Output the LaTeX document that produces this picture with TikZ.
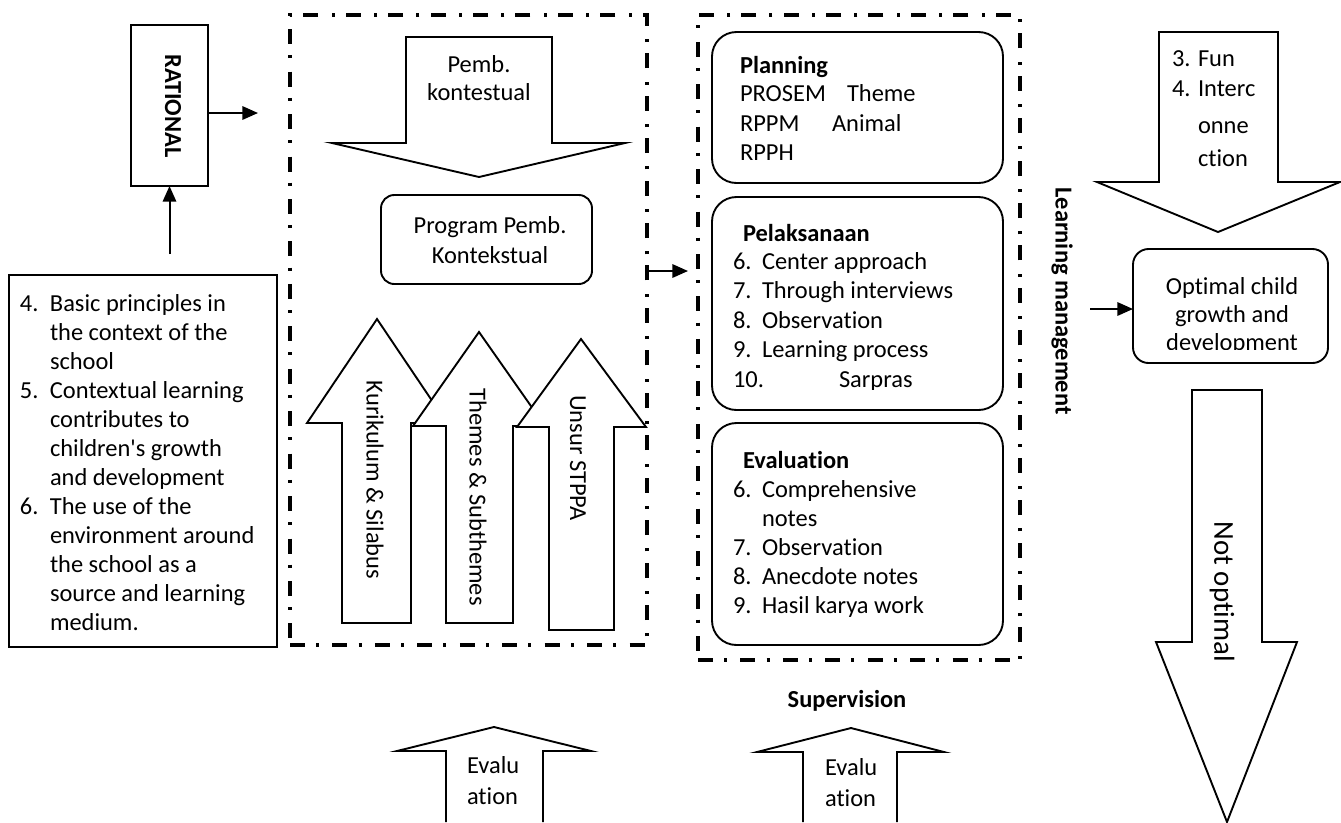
\documentclass[tikz,border=0pt]{standalone}
\usepackage{fontspec}
\setmainfont{Carlito}[Ligatures={TeXOff,CommonOff}]
\usetikzlibrary{arrows.meta}
\begin{document}
\begin{tikzpicture}[x=0.45pt,y=-0.45pt,
  every node/.style={inner sep=0pt,outer sep=0pt,font=\fontsize{11}{13.2}\selectfont},
  dashdot/.style={draw,line width=1.8pt,dash pattern=on 6.75pt off 5pt on 1.35pt off 6pt},
  plainbox/.style={draw,line width=0.85pt},
  rbox/.style={draw,line width=0.85pt,rounded corners=11pt},
  conn/.style={line width=0.9pt,-{Triangle[length=7pt,width=6pt]}},
  blockarrow/.style={draw,line width=0.85pt,fill=white,line join=miter},
  txt/.style={anchor=base west},
  ctxt/.style={anchor=base},
  vtxt/.style={rotate=-90},
]
\useasboundingbox (0,0) rectangle (1341,822);

% ---- left part
\node[plainbox,minimum width=34.65pt,minimum height=72.45pt] (rat) at (169.5,105.5) {};
\node[vtxt,font=\fontsize{11}{13.2}\selectfont\bfseries] (rattxt) at (173,106) {RATIONAL};
\node[plainbox,minimum width=120.6pt,minimum height=167.4pt] (lbox) at (143,461) {};
\node[txt,font=\fontsize{11}{13.05}\selectfont] (ltxt) at (20,311) {%
\begin{tabular}[t]{@{}p{13.5pt}@{}l@{}}
4. & Basic principles in\\
 & the context of the\\
 & school\\
5. & Contextual learning\\
 & contributes to\\
 & children's growth\\
 & and development\\
6. & The use of the\\
 & environment around\\
 & the school as a\\
 & source and learning\\
 & medium.
\end{tabular}};

% ---- dash-dot frames
\node[dashdot,minimum width=160.65pt,minimum height=283.5pt] (box1) at (468.5,330) {};
\node[dashdot,minimum width=144.9pt,minimum height=290.25pt] (box2) at (859,337.5) {};

% ---- connectors
\draw[conn,shorten >=14.4pt] (rat.east |- 0,113) -- (box1.west |- 0,113);
\draw[conn,shorten <=9.45pt] (rat.south |- lbox.north) -- (rat.south);
\draw[conn,shorten >=4.5pt] (box1.east |- 0,271) -- (box2.west |- 0,271);

% ---- box 1 content
\draw[blockarrow] (406,37) -- (552,37) -- (552,143) -- (625,143) -- (479,177) -- (332,143) -- (406,143) -- cycle;
\node[ctxt,font=\fontsize{11}{12.6}\selectfont] (pembtxt) at (479,72) {\begin{tabular}[t]{@{}c@{}}Pemb.\\kontestual\end{tabular}};
\node[rbox,rounded corners=6pt,minimum width=94.95pt,minimum height=40.05pt] (prog) at (486.5,239.5) {};
\node[ctxt,font=\fontsize{11}{13.5}\selectfont] (progtxt) at (490,233) {\begin{tabular}[t]{@{}c@{}}Program Pemb.\\Kontekstual\end{tabular}};

\draw[blockarrow] (342,623) -- (342,423) -- (307,423) -- (377,319) -- (447,423) -- (411,423) -- (411,623) -- cycle;
\node[vtxt] (kur) at (375,480) {Kurikulum \& Silabus};
\draw[blockarrow] (446,623) -- (446,426) -- (413,426) -- (479,332) -- (545,426) -- (513,426) -- (513,623) -- cycle;
\node[vtxt] (thm) at (478,497) {Themes \& Subthemes};
\draw[blockarrow] (549,630) -- (549,427) -- (517,427) -- (581,339) -- (646,427) -- (614,427) -- (614,630) -- cycle;
\node[vtxt] (uns) at (578,458) {Unsur STPPA};

% ---- box 2 content
\node[rbox,minimum width=130.95pt,minimum height=67.95pt] (plan) at (857.5,107.5) {};
\node[txt,font=\fontsize{11}{13.2}\selectfont\bfseries] (plant) at (740,73) {Planning};
\node[txt] (p1) at (740,101) {PROSEM};
\node[txt] (p1b) at (847,101) {Theme};
\node[txt] (p2) at (740,131) {RPPM};
\node[txt] (p2b) at (832,131) {Animal};
\node[txt] (p3) at (740,160) {RPPH};

\node[rbox,minimum width=130.95pt,minimum height=95.85pt] (pel) at (857.5,303.5) {};
\node[txt,font=\fontsize{11}{13.2}\selectfont\bfseries] (pelt) at (743,241) {Pelaksanaan};
\begin{scope}
\clip (712,197) rectangle (1003,389);
\node[txt,font=\fontsize{11}{13.3}\selectfont] (pellist) at (733,269) {%
\begin{tabular}[t]{@{}p{13.05pt}@{}l@{}}
6. & Center approach\\
7. & Through interviews\\
8. & Observation\\
9. & Learning process\\
10. & \hspace{34.65pt}Sarpras
\end{tabular}};
\end{scope}

\node[rbox,minimum width=130.95pt,minimum height=99.9pt] (eva) at (857.5,534) {};
\node[txt,font=\fontsize{11}{13.2}\selectfont\bfseries] (evat) at (743,468) {Evaluation};
\node[txt,font=\fontsize{11}{13.1}\selectfont] (evalist) at (733,497) {%
\begin{tabular}[t]{@{}p{13.05pt}@{}l@{}}
6. & Comprehensive\\
 & notes\\
7. & Observation\\
8. & Anecdote notes\\
9. & Hasil karya work
\end{tabular}};

\node[vtxt,font=\fontsize{11}{13.2}\selectfont\bfseries] (lm) at (1062,301) {Learning management};

% ---- right part
\draw[blockarrow] (1159,32) -- (1278,32) -- (1278,182) -- (1340,182) -- (1218,232) -- (1097,182) -- (1159,182) -- cycle;
\node[txt,font=\fontsize{11}{13.5}\selectfont] (funlist) at (1172,66) {%
\begin{tabular}[t]{@{}p{11.7pt}@{}l@{}}
3. & Fun\\
4. & Interc\\[3.2pt]
 & onne\\[1.4pt]
 & ction
\end{tabular}};

\node[rbox,rounded corners=7pt,minimum width=87.75pt,minimum height=51.3pt] (opt) at (1230.5,306) {};
\begin{scope}
\clip (1133,249) rectangle (1328,349);
\node[ctxt,font=\fontsize{11}{12.8}\selectfont] (opttxt) at (1232,294) {\begin{tabular}[t]{@{}c@{}}Optimal child\\growth and\\development\end{tabular}};
\end{scope}
\draw[conn,shorten <=31.5pt] (box2.east |- 0,309) -- (opt.west |- 0,309);

\draw[blockarrow] (1192,390) -- (1262,390) -- (1262,642) -- (1297,642) -- (1227,822) -- (1156,642) -- (1192,642) -- cycle;
\node[vtxt,font=\fontsize{13}{15}\selectfont] (notopt) at (1222,592) {Not optimal};

% ---- bottom
\node[ctxt,font=\fontsize{11}{13.2}\selectfont\bfseries] (sup) at (847,707) {Supervision};
\draw[line width=0.85pt,line join=miter] (446,822) -- (446,751) -- (397,751) -- (494,727) -- (591,751) -- (543,751) -- (543,822);
\node[txt,font=\fontsize{11}{14}\selectfont] (ev1) at (467,773) {\begin{tabular}[t]{@{}l@{}}Evalu\\ation\end{tabular}};
\draw[line width=0.85pt,line join=miter] (803,822) -- (803,752) -- (757,752) -- (851,728) -- (944,752) -- (897,752) -- (897,822);
\node[txt,font=\fontsize{11}{14}\selectfont] (ev2) at (825,775) {\begin{tabular}[t]{@{}l@{}}Evalu\\ation\end{tabular}};
\end{tikzpicture}
\end{document}
